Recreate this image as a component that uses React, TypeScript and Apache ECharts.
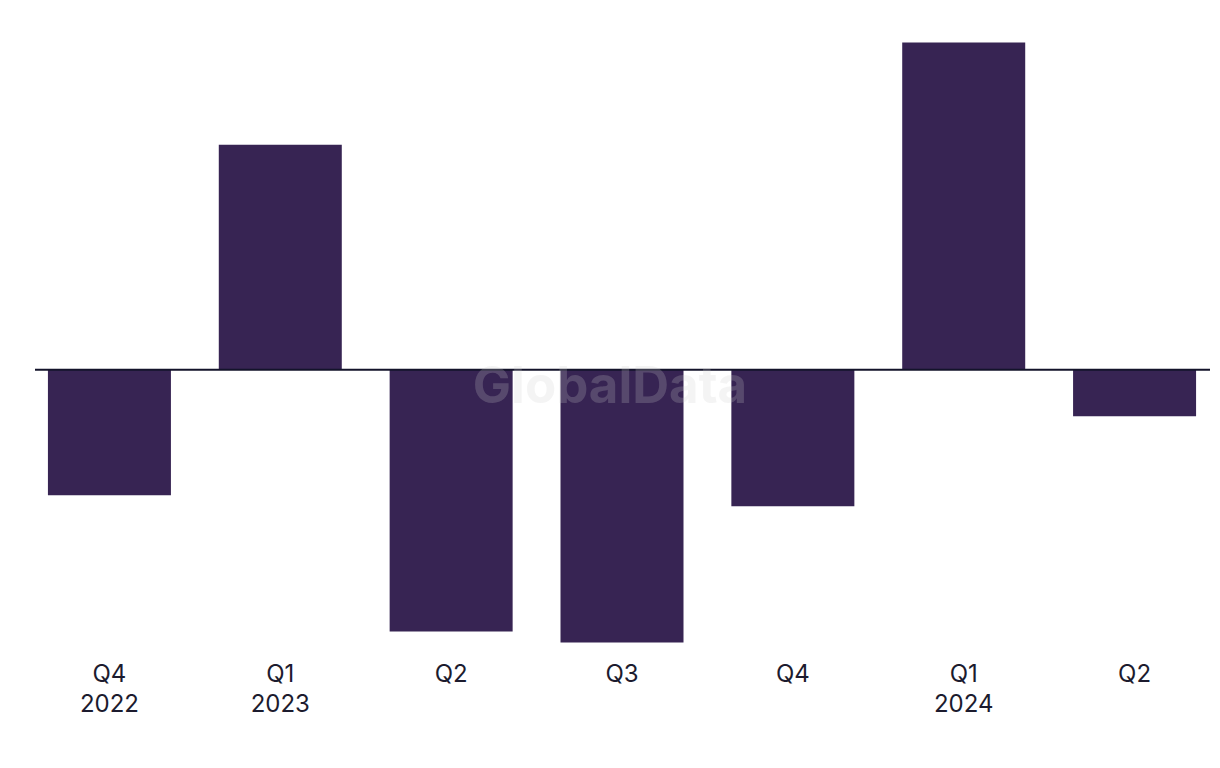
import React, { useEffect, useRef } from "react";
import * as echarts from "echarts";

const quarters = ["Q4\n2022", "Q1\n2023", "Q2", "Q3", "Q4", "Q1\n2024", "Q2"];
const values = [-9.2, 16.5, -19.2, -20.0, -10.0, 24.0, -3.4];
const yMin = -20;
const yMax = 24;

export default function App() {
  const ref = useRef<HTMLDivElement>(null);
  useEffect(() => {
    if (!ref.current) return;
    const chart = echarts.init(ref.current, undefined, { renderer: "svg" });
    chart.setOption({
      animation: false,
      backgroundColor: "#ffffff",
      grid: { left: 24, right: -3, top: 42.5, height: 600, containLabel: false },
      xAxis: {
        type: "category",
        data: quarters,
        axisLine: { show: false },
        axisTick: { show: false },
        axisLabel: {
          color: "#1c1b2e",
          fontSize: 24,
          lineHeight: 30,
          fontFamily: "Inter, 'Noto Sans', sans-serif",
          margin: 16,
          interval: 0,
          verticalAlign: "top",
        },
      },
      yAxis: {
        type: "value",
        min: yMin,
        max: yMax,
        show: false,
        splitLine: { show: false },
      },
      series: [
        {
          type: "bar",
          data: values,
          barWidth: 123,
          itemStyle: { color: "#372453" },
        },
      ],
    });
    const zeroY = chart.convertToPixel({ yAxisIndex: 0 }, 0) as number;
    chart.setOption({
      graphic: [
        {
          type: "line",
          shape: { x1: 35, y1: zeroY, x2: 1210, y2: zeroY },
          style: { stroke: "#13132a", lineWidth: 2 },
          z: 10,
        },
        {
          type: "text",
          x: 610,
          y: 384,
          style: {
            text: "GlobalData",
            fontSize: 51,
            fontWeight: "bold",
            fontFamily: "Inter, 'Noto Sans', sans-serif",
            fill: "rgba(205,205,205,0.22)",
            align: "center",
            verticalAlign: "middle",
          },
          z: 20,
        },
      ],
    });
    return () => chart.dispose();
  }, []);
  return (
    <div
      ref={ref}
      style={{ position: "absolute", left: 0, top: 0, width: 1220, height: 768 }}
    />
  );
}
